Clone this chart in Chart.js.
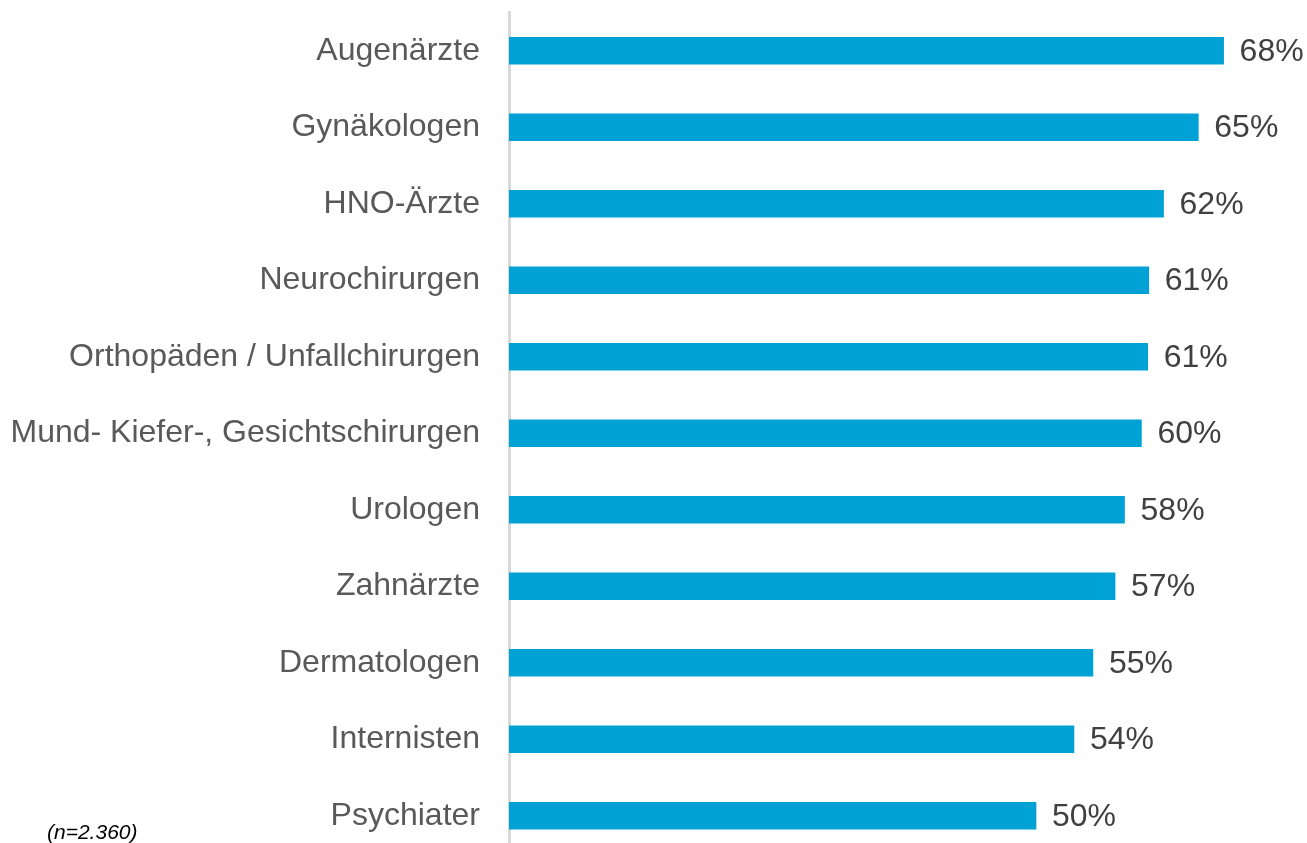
<!DOCTYPE html>
<html lang="de">
<head>
<meta charset="utf-8">
<title>Fachärzte</title>
<script src="https://cdn.jsdelivr.net/npm/chart.js@4/dist/chart.umd.min.js"></script>
<style>
  html, body { margin: 0; padding: 0; background: #fff; overflow: hidden; }
  #wrap { position: relative; width: 1307px; height: 854px; }
</style>
</head>
<body>
<div id="wrap"><canvas id="barChart"></canvas></div>
<script>
const categories = [
  'Augenärzte',
  'Gynäkologen',
  'HNO-Ärzte',
  'Neurochirurgen',
  'Orthopäden / Unfallchirurgen',
  'Mund- Kiefer-, Gesichtschirurgen',
  'Urologen',
  'Zahnärzte',
  'Dermatologen',
  'Internisten',
  'Psychiater'
];
// bar lengths as measured, in percent
const shares = [67.8, 65.4, 62.1, 60.7, 60.6, 60.0, 58.4, 57.5, 55.4, 53.6, 50.0];
// labels as printed next to the bars
const shareLabels = ['68%', '65%', '62%', '61%', '61%', '60%', '58%', '57%', '55%', '54%', '50%'];
const sampleNote = '(n=2.360)';

const FONT = '"Liberation Sans", Arial, sans-serif';

const valueLabels = {
  id: 'valueLabels',
  afterDatasetsDraw(chart) {
    const { ctx } = chart;
    const meta = chart.getDatasetMeta(0);
    ctx.save();
    ctx.font = '32px ' + FONT;
    ctx.fillStyle = '#404040';
    ctx.textAlign = 'left';
    ctx.textBaseline = 'middle';
    meta.data.forEach((bar, i) => {
      ctx.fillText(shareLabels[i], bar.x + 16, bar.y + 1);
    });
    ctx.restore();
  },
  afterDraw(chart) {
    const { ctx } = chart;
    ctx.save();
    ctx.font = 'italic 21px ' + FONT;
    ctx.fillStyle = '#000';
    ctx.textBaseline = 'alphabetic';
    ctx.fillText(sampleNote, 47, 839);
    ctx.restore();
  }
};

new Chart(document.getElementById('barChart'), {
  type: 'bar',
  data: {
    labels: categories,
    datasets: [{
      data: shares,
      backgroundColor: '#00a2d5',
      borderWidth: 0,
      barThickness: 27,
      categoryPercentage: 1
    }]
  },
  options: {
    indexAxis: 'y',
    responsive: true,
    maintainAspectRatio: false,
    animation: false,
    layout: { padding: { top: 12.5, right: 7.5, bottom: 0, left: 0 } },
    plugins: {
      legend: { display: false },
      tooltip: { enabled: false }
    },
    scales: {
      x: {
        display: false,
        min: 0,
        max: 75
      },
      y: {
        afterFit(scale) {
          scale.width = 509;
          // no extra room above/below for the first and last label
          scale.paddingTop = 0;
          scale.paddingBottom = 0;
        },
        grid: { display: false, drawTicks: false },
        border: { display: true, color: '#d9d9d9', width: 3 },
        ticks: {
          padding: 29,
          color: '#595959',
          font: { family: FONT, size: 32 }
        }
      }
    }
  },
  plugins: [valueLabels]
});
</script>
</body>
</html>
